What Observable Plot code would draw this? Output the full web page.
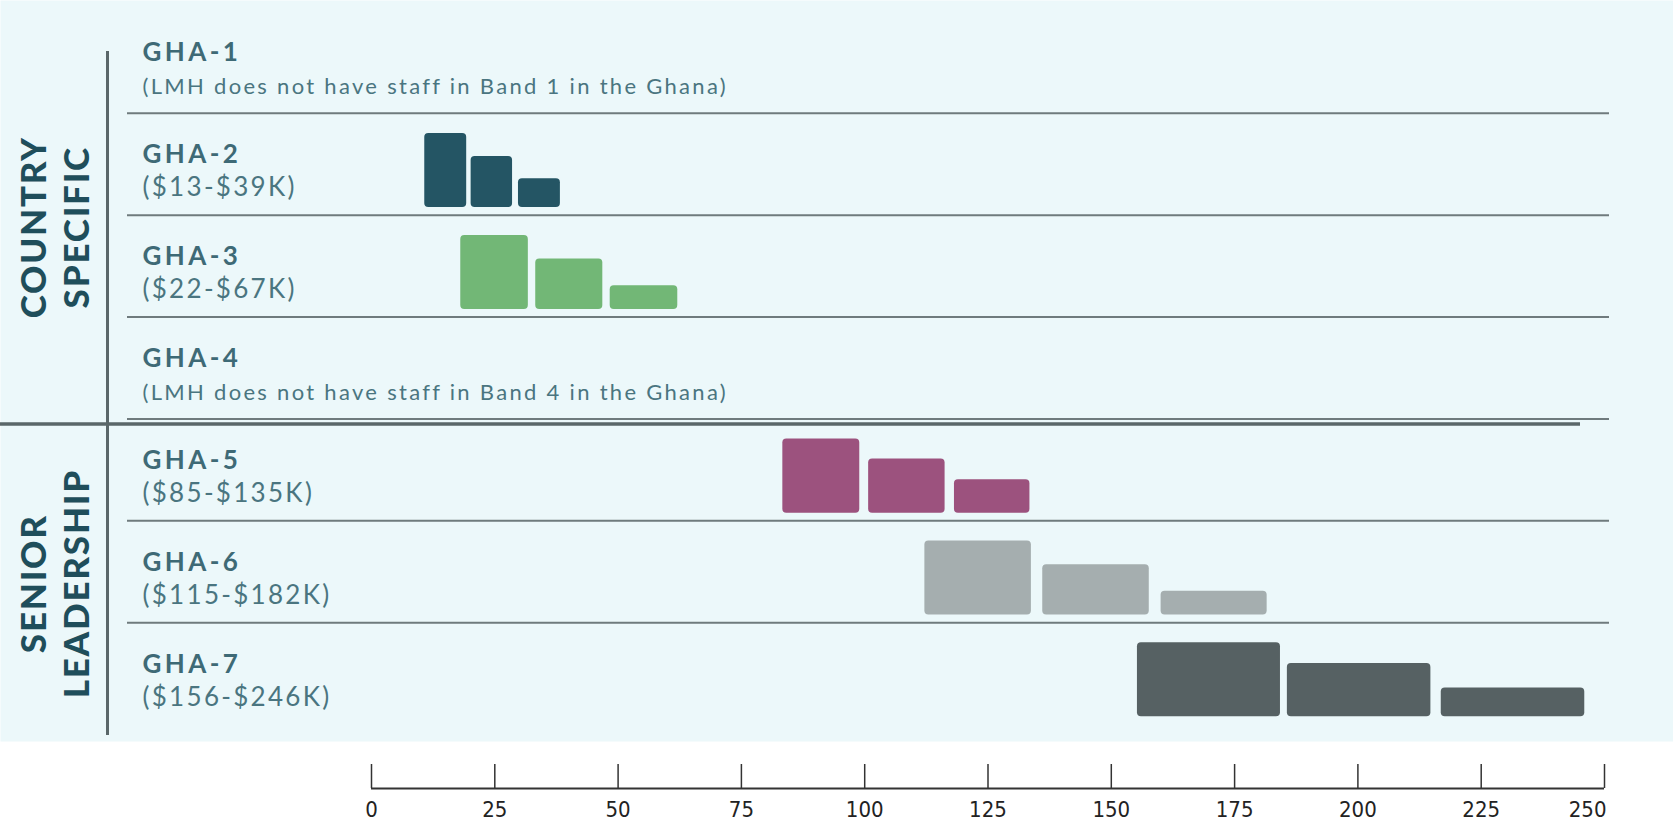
<!DOCTYPE html>
<html>
<head>
<meta charset="utf-8">
<script src="https://cdn.jsdelivr.net/npm/d3@7"></script>
<script src="https://cdn.jsdelivr.net/npm/@observablehq/plot@0.6"></script>
<style>
  body { margin: 0; background: #ffffff; }
  #chart svg { display: block; }
</style>
</head>
<body>
<div id="chart"></div>
<script>
// ---- data ----
const bands = ["GHA-1", "GHA-2", "GHA-3", "GHA-4", "GHA-5", "GHA-6", "GHA-7"];
const bandNotes = [
  "(LMH does not have staff in Band 1 in the Ghana)",
  "($13-$39K)",
  "($22-$67K)",
  "(LMH does not have staff in Band 4 in the Ghana)",
  "($85-$135K)",
  "($115-$182K)",
  "($156-$246K)"
];
const bandGroups = ["COUNTRY SPECIFIC", "COUNTRY SPECIFIC", "COUNTRY SPECIFIC", "COUNTRY SPECIFIC",
  "SENIOR LEADERSHIP", "SENIOR LEADERSHIP", "SENIOR LEADERSHIP"];
const bandColors = ["#cccccc", "#245564", "#72B776", "#cccccc", "#9C527E", "#A5AEAF", "#566163"];

const barBand   = ["GHA-2", "GHA-2", "GHA-2", "GHA-3", "GHA-3", "GHA-3", "GHA-5", "GHA-5", "GHA-5",
                   "GHA-6", "GHA-6", "GHA-6", "GHA-7", "GHA-7", "GHA-7"];
const barStart  = [10.8, 20.2, 29.8, 18.1, 33.3, 48.4, 83.4, 100.8, 118.2, 112.2, 136.1, 160.1, 155.3, 185.7, 216.9];
const barEnd    = [19.3, 28.6, 38.3, 31.8, 46.9, 62.1, 99.0, 116.3, 133.5, 133.8, 157.7, 181.6, 184.3, 214.8, 246.0];
const barHeight = [100, 69, 39, 100, 68, 32, 100, 73, 45, 100, 68, 32, 100, 72, 39];

const xTicks = [0, 25, 50, 75, 100, 125, 150, 175, 200, 225, 250];

// ---- derived tables ----
const rows = bands.map((b, i) => ({band: b, note: bandNotes[i], group: bandGroups[i], i}));
const bars = barBand.map((b, k) => ({band: b, x1: barStart[k], x2: barEnd[k], h: barHeight[k], row: bands.indexOf(b)}));
const groupNames = [...new Set(bandGroups)];
const groupSpans = groupNames.map(g => {
  const idx = bandGroups.map((v, i) => v === g ? i : -1).filter(i => i >= 0);
  return {name: g, first: idx[0], last: idx[idx.length - 1]};
});
const groupBreaks = groupSpans.slice(1).map(s => s.first);
const rowBreaks = d3.range(1, bands.length);

const BASE = 0.925;  // bar baseline inside a row (fraction of row)
const MAXH = 0.727;  // tallest bar (fraction of row)

const textColor = "#3E6A76";
const lineColor = "#6F7B7D";
const tickFont = "'DejaVu Sans Condensed', 'DejaVu Sans', sans-serif";

const chart = Plot.plot({
  width: 1673,
  height: 824,
  marginLeft: 0,
  marginRight: 0,
  marginTop: 0,
  marginBottom: 36,
  style: {fontFamily: "Lato, 'Open Sans', sans-serif", background: "transparent", overflow: "visible"},
  x: {domain: [xTicks[0], xTicks[xTicks.length - 1]], range: [371, 1604], axis: null},
  y: {domain: [0, bands.length], range: [11, 724], axis: null},
  color: {domain: bands, range: bandColors},
  marks: [
    // panel background
    Plot.frame({fill: "#ECF8FA", stroke: "none", insetBottom: 47}),
    // row separators
    Plot.ruleY(rowBreaks, {y: d => d, stroke: lineColor, strokeWidth: 2, insetLeft: 127, insetRight: 64}),
    // group divider
    Plot.ruleY(groupBreaks, {y: d => d, stroke: "#5A6769", strokeWidth: 3.5, dy: 5, insetRight: 93}),
    // vertical group line
    Plot.frame({anchor: "left", stroke: "#5A6769", strokeWidth: 3, insetLeft: 107, insetTop: 52, insetBottom: 55}),
    // bars
    Plot.rect(bars, {
      x1: "x1", x2: "x2",
      y1: d => d.row + BASE,
      y2: d => d.row + BASE - d.h / 100 * MAXH,
      fill: "band", rx: 4
    }),
    // row titles
    Plot.text(rows, {
      frameAnchor: "left", dx: 142, y: d => d.i + 0.5, dy: -1,
      text: "band", textAnchor: "start", lineAnchor: "bottom",
      fontSize: 26, fontWeight: 700, fill: textColor, ariaLabel: () => "row title"
    }),
    // row notes
    Plot.text(rows, {
      frameAnchor: "left", dx: 142, y: d => d.i + 0.5, dy: 32,
      text: "note", textAnchor: "start", lineAnchor: "bottom",
      fontSize: d => d.note.startsWith("(LMH") ? 22 : 26,
      fill: "#4A7580", ariaLabel: () => "row note"
    }),
    // group labels
    Plot.text(groupSpans, {
      frameAnchor: "left", dx: 53, y: d => (d.first + d.last + 1) / 2, dy: 12,
      text: d => d.name.replace(" ", "\n"), rotate: -90,
      textAnchor: "middle", lineAnchor: "middle", lineHeight: 1.25,
      fontSize: 35, fontWeight: 900, fill: "#1F4E5B", ariaLabel: () => "group label"
    }),
    // x axis
    Plot.tickX(xTicks, {x: d => d, insetTop: 764, stroke: "#333", strokeWidth: 1.5}),
    Plot.ruleY([bands.length], {y: d => d, x1: xTicks[0], x2: xTicks[xTicks.length - 1], dy: 64, stroke: "#333", strokeWidth: 2}),
    Plot.axisX(xTicks.slice(0, -1), {tickSize: 0, tickPadding: 13, fontSize: 22, fontFamily: tickFont, fill: "#222", label: null}),
    Plot.axisX(xTicks.slice(-1), {tickSize: 0, tickPadding: 13, fontSize: 22, fontFamily: tickFont, fill: "#222", label: null, textAnchor: "end", dx: 2})
  ]
});

document.getElementById("chart").appendChild(chart);
const svg = d3.select(chart);
svg.selectAll('[aria-label="group label"]').style("letter-spacing", "1.8px");
svg.selectAll('[aria-label="row title"]').style("letter-spacing", "3.4px");
svg.selectAll('[aria-label="row note"]').style("letter-spacing", "2.3px");
</script>
</body>
</html>
